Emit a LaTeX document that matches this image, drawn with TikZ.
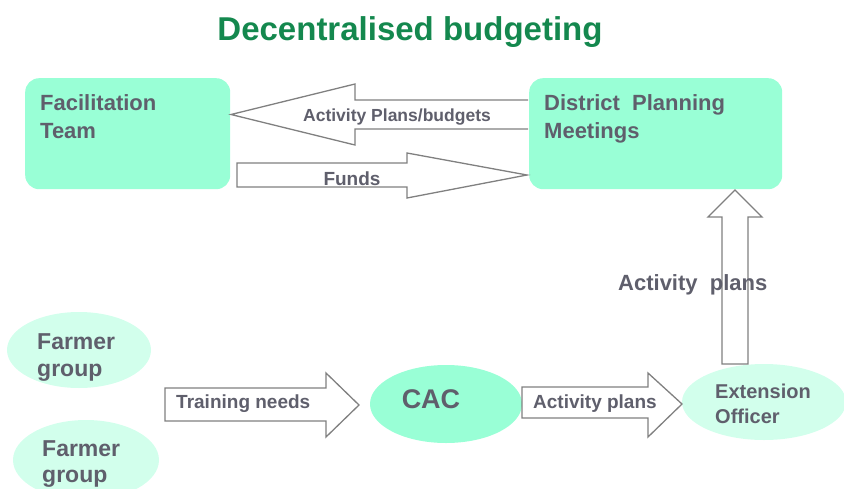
\documentclass[tikz,border=0pt]{standalone}
\usepackage{fontspec}
\setmainfont{Liberation Sans}
\usetikzlibrary{shapes.geometric}
\definecolor{mint}{RGB}{153,255,214}
\definecolor{lightmint}{RGB}{210,255,236}
\definecolor{txtgray}{RGB}{95,95,108}
\definecolor{titlegreen}{RGB}{20,136,78}
\definecolor{arrowgray}{RGB}{128,128,128}
\begin{document}
\begin{tikzpicture}[x=1pt,y=-1pt,
  box/.style={fill=mint, draw=none, rounded corners=14pt, anchor=north west, inner sep=0pt},
  oval/.style={ellipse, draw=none, inner sep=0pt},
  boxtext/.style={font=\bfseries\fontsize{22}{28}\selectfont, text=txtgray, align=left, inner sep=0pt, anchor=north west},
  arrtext/.style={font=\bfseries\fontsize{19}{23}\selectfont, text=txtgray, inner sep=0pt},
  blockarrow/.style={draw=arrowgray, fill=white, line width=1.3pt, line join=miter}
]
\useasboundingbox (0,0) rectangle (844,488);

% title
\node[font=\bfseries\fontsize{33}{38}\selectfont, text=titlegreen, anchor=base, inner sep=0pt] (title) at (410,40) {Decentralised budgeting};

% top boxes
\node[box, minimum width=205pt, minimum height=111pt] (ft) at (25,78) {};
\node[box, minimum width=253pt, minimum height=111pt] (dpm) at (529,78) {};
\node[boxtext] (fttext) at (40,94) {Facilitation\\Team};
\node[boxtext] (dpmtext) at (544,94) {District\ \ Planning\\Meetings};

% bottom ellipses
\node[oval, fill=lightmint, minimum width=144pt, minimum height=76pt] (fg1) at (79,350) {};
\node[oval, fill=lightmint, minimum width=146pt, minimum height=80pt] (fg2) at (86,460) {};
\node[oval, fill=mint, minimum width=152pt, minimum height=78pt] (cac) at (446,404) {};
\node[oval, fill=lightmint, minimum width=164pt, minimum height=76pt] (eo) at (764,402) {};

\node[font=\bfseries\fontsize{23}{27}\selectfont, text=txtgray, align=left, inner sep=0pt, anchor=north west] (fg1text) at (37,333) {Farmer\\group};
\node[font=\bfseries\fontsize{23}{26}\selectfont, text=txtgray, align=left, inner sep=0pt, anchor=north west] (fg2text) at (42,440) {Farmer\\group};
\node[font=\bfseries\fontsize{27}{30}\selectfont, text=txtgray, anchor=base, inner sep=0pt] (cactext) at (431,408) {CAC};
\node[font=\bfseries\fontsize{20}{25}\selectfont, text=txtgray, align=left, inner sep=0pt, anchor=north west] (eotext) at (715,383.7) {Extension\\Officer};

% block arrows
% Activity Plans/budgets (DPM -> FT)
\draw[blockarrow] (528,100) -- (355,100) -- (355,84) -- (231,114.5) -- (355,145) -- (355,129) -- (528,129);
\node[arrtext, font=\bfseries\fontsize{17.5}{21}\selectfont, anchor=base] (apb) at (397,121) {Activity Plans/budgets};

% Funds (FT -> DPM)
\draw[blockarrow] (237,163) -- (407,163) -- (407,153) -- (527,175) -- (407,198) -- (407,187) -- (237,187) -- cycle;
\node[arrtext, anchor=base] (funds) at (352,185) {Funds};

% Activity plans (EO -> DPM), vertical
\draw[blockarrow] (722,364) -- (722,217) -- (708,217) -- (735,190) -- (762,217) -- (748,217) -- (748,364) -- cycle;
\node[font=\bfseries\fontsize{22}{26}\selectfont, text=txtgray, anchor=base west, inner sep=0pt] (apv) at (618,290) {Activity\ \ plans};

% Training needs (FG -> CAC)
\draw[blockarrow] (165,388) -- (326,388) -- (326,373) -- (359,405) -- (326,437) -- (326,421) -- (165,421) -- cycle;
\node[arrtext, anchor=base west] (tn) at (176,408) {Training needs};

% Activity plans (CAC -> EO)
\draw[blockarrow] (522,387) -- (648,387) -- (648,373) -- (682,404) -- (648,437) -- (648,418) -- (522,418) -- cycle;
\node[arrtext, anchor=base west] (aph) at (533,408) {Activity plans};
\end{tikzpicture}
\end{document}
